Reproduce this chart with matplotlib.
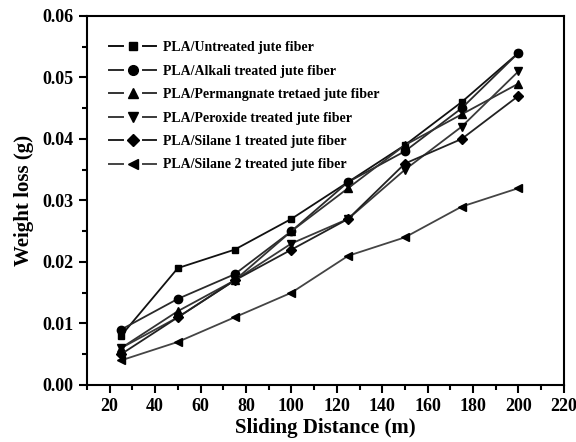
"""Weight loss vs sliding distance for PLA/jute composites"""
import matplotlib
matplotlib.use("Agg")
import matplotlib.pyplot as plt
from matplotlib.legend_handler import HandlerBase
from matplotlib.lines import Line2D
from matplotlib.ticker import MultipleLocator

plt.rcParams['font.family'] = ['Liberation Serif', 'DejaVu Serif']
plt.rcParams['font.weight'] = 'bold'

distance = [25, 50, 75, 100, 125, 150, 175, 200]
untreated = [0.008, 0.019, 0.022, 0.027, 0.033, 0.039, 0.046, 0.054]
alkali = [0.009, 0.014, 0.018, 0.025, 0.033, 0.038, 0.045, 0.054]
permanganate = [0.006, 0.012, 0.017, 0.025, 0.032, 0.039, 0.044, 0.049]
peroxide = [0.006, 0.011, 0.017, 0.023, 0.027, 0.035, 0.042, 0.051]
silane1 = [0.005, 0.011, 0.017, 0.022, 0.027, 0.036, 0.040, 0.047]
silane2 = [0.004, 0.007, 0.011, 0.015, 0.021, 0.024, 0.029, 0.032]

labels = ["PLA/Untreated jute fiber",
          "PLA/Alkali treated jute fiber",
          "PLA/Permangnate tretaed jute fiber",
          "PLA/Peroxide treated jute fiber",
          "PLA/Silane 1 treated jute fiber",
          "PLA/Silane 2 treated jute fiber"]
series = [untreated, alkali, permanganate, peroxide, silane1, silane2]
markers = ["s", "o", "^", "v", "D", "<"]
colors = ["#111111", "#2a2a2a", "#333333", "#3a3a3a", "#222222", "#444444"]
sizes = [5, 6, 6, 6, 5, 6]


class GapHandler(HandlerBase):
    """Legend key drawn as line - marker - line with small gaps"""
    def create_artists(self, legend, orig, xdescent, ydescent, width,
                       height, fontsize, trans):
        y = height / 2 - ydescent
        x0 = -xdescent
        gap = 0.21 * width
        kw = dict(color=orig.get_color(), lw=orig.get_linewidth(),
                  transform=trans)
        left = Line2D([x0, x0 + width / 2 - gap], [y, y], **kw)
        right = Line2D([x0 + width / 2 + gap, x0 + width], [y, y], **kw)
        mark = Line2D([x0 + width / 2], [y], ls="none",
                      marker=orig.get_marker(), ms=orig.get_markersize(),
                      mfc="black", mec="black", transform=trans)
        return [left, right, mark]


fig = plt.figure(figsize=(5.76, 4.42), dpi=100)
ax = fig.add_axes([0.151, 0.129, 0.828, 0.835])

handles = []
for y, m, c, s in zip(series, markers, colors, sizes):
    ax.plot(distance, y, color=c, lw=1.3, marker=m, ms=s,
            mfc="black", mec="black")
    handles.append(Line2D([], [], color=c, lw=1.4, marker=m, ms=s + 1))

ax.set_xlim(10, 220)
ax.set_ylim(0, 0.06)
ax.xaxis.set_major_locator(MultipleLocator(20))
ax.xaxis.set_minor_locator(MultipleLocator(10))
ax.yaxis.set_major_locator(MultipleLocator(0.01))
ax.yaxis.set_minor_locator(MultipleLocator(0.005))
ax.yaxis.set_major_formatter(plt.FormatStrFormatter("%.2f"))
ax.tick_params(which="major", direction="out", length=6, width=1.5,
               labelsize=13, top=False, right=False)
ax.tick_params(which="minor", direction="out", length=3.5, width=1.5,
               top=False, right=False)
for lab in ax.get_xticklabels() + ax.get_yticklabels():
    lab.set_fontweight("bold")
for sp in ax.spines.values():
    sp.set_linewidth(1.5)

ax.set_xlabel("Sliding Distance (m)", fontsize=15, fontweight="bold",
              labelpad=2)
ax.set_ylabel("Weight loss (g)", fontsize=15, fontweight="bold", labelpad=6)

ax.legend(handles, labels, loc="upper left", frameon=False,
          prop={"size": 10, "weight": "bold"}, handlelength=3.4,
          handletextpad=0.5, labelspacing=0.75,
          handler_map={Line2D: GapHandler()},
          bbox_to_anchor=(0.02, 0.965))

fig.savefig("out.png", dpi=100)
plt.close(fig)
